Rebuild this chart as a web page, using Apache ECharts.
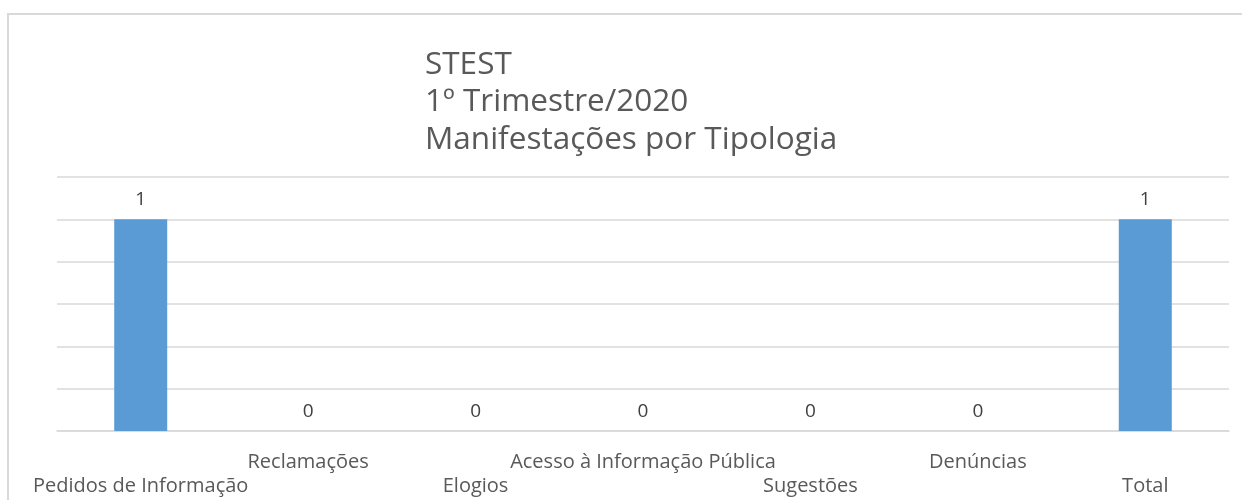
<!DOCTYPE html>
<html>
<head>
<meta charset="utf-8">
<script src="https://cdn.jsdelivr.net/npm/echarts@6/dist/echarts.min.js"></script>
<style>
html,body{margin:0;padding:0;background:#fff;}
#c{width:1242px;height:500px;}
</style>
</head>
<body>
<div id="c"></div>
<script>
const titleLines = ['STEST', '1º Trimestre/2020', 'Manifestações por Tipologia'];
const categories = ['Pedidos de Informação', 'Reclamações', 'Elogios', 'Acesso à Informação Pública', 'Sugestões', 'Denúncias', 'Total'];
const values = [1, 0, 0, 0, 0, 0, 1];

const chart = echarts.init(document.getElementById('c'), null, {renderer: 'canvas'});
const FONT = '"Open Sans", "Noto Sans", sans-serif';
chart.setOption({
  animation: false,
  backgroundColor: '#fff',
  title: {
    text: titleLines.join('\n'),
    left: 420,
    top: 41,
    textStyle: {fontFamily: FONT, fontSize: 31.5, fontWeight: 'normal', color: '#595959', lineHeight: 37.5}
  },
  graphic: [{
    type: 'rect',
    shape: {x: 8, y: 14, width: 1250, height: 520},
    style: {fill: 'none', stroke: '#d9d9d9', lineWidth: 2},
    silent: true
  }],
  grid: {left: 57, right: 13, top: 177, bottom: 69, containLabel: false},
  xAxis: {
    type: 'category',
    data: categories,
    axisLine: {show: true, lineStyle: {color: '#d9d9d9', width: 1.5}},
    axisTick: {show: false},
    axisLabel: {
      interval: 0,
      margin: 19,
      fontFamily: FONT,
      fontSize: 20,
      color: '#595959',
      lineHeight: 24,
      formatter: function (v, i) { return i % 2 === 0 ? '\n' + v : v; }
    }
  },
  yAxis: {
    type: 'value',
    min: 0,
    max: 1.2,
    interval: 0.2,
    axisLabel: {show: false},
    axisLine: {show: false},
    axisTick: {show: false},
    splitLine: {lineStyle: {color: '#d9d9d9', width: 1.5}}
  },
  series: [{
    type: 'bar',
    data: values,
    barWidth: 53,
    itemStyle: {color: '#5b9bd5'},
    label: {
      show: true,
      position: 'top',
      distance: 10,
      fontFamily: FONT,
      fontSize: 19,
      color: '#404040'
    }
  }]
});
</script>
</body>
</html>
